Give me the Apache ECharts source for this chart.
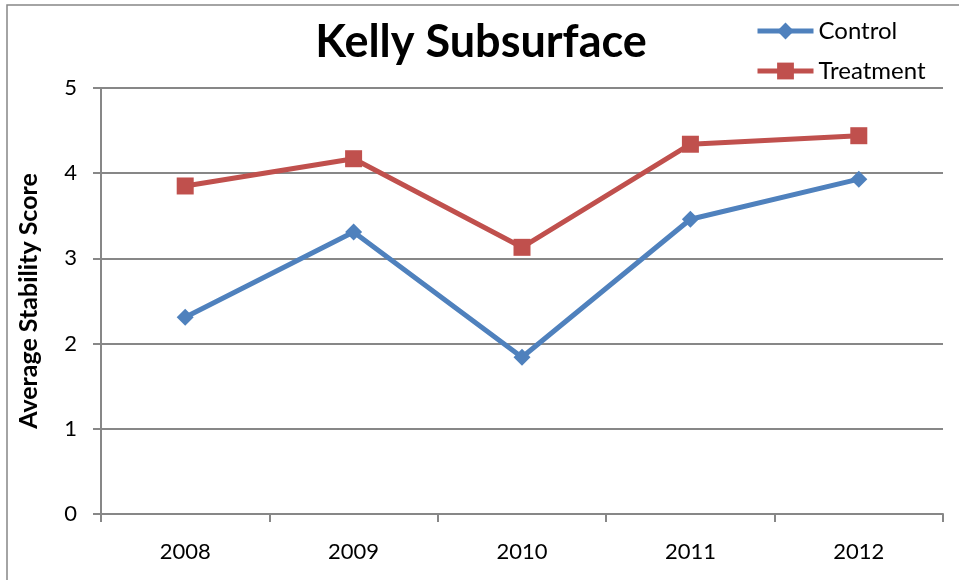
<!DOCTYPE html>
<html>
<head>
<meta charset="utf-8">
<script src="https://cdn.jsdelivr.net/npm/echarts@6/dist/echarts.min.js"></script>
<style>
  html, body { margin: 0; padding: 0; background: #fff; }
  #chart { width: 959px; height: 580px; }
</style>
</head>
<body>
<div id="chart"></div>
<script>
// Yearly average stability scores, Kelly subsurface plots
const years = ['2008', '2009', '2010', '2011', '2012'];
const control = [2.31, 3.31, 1.84, 3.46, 3.93];
const treatment = [3.85, 4.17, 3.13, 4.34, 4.44];
const yTicks = [0, 1, 2, 3, 4, 5];

const FONT = 'Lato, "Open Sans", sans-serif';
const GRAY = '#878787';

const chart = echarts.init(document.getElementById('chart'));
chart.setOption({
  animation: false,
  backgroundColor: '#fff',
  title: {
    text: 'Kelly Subsurface',
    left: 476,
    textAlign: 'center',
    top: 15,
    textStyle: { fontFamily: FONT, fontWeight: 'bold', fontSize: 45, color: '#000' }
  },
  legend: {
    orient: 'vertical',
    left: 750,
    top: 14,
    itemWidth: 56,
    itemHeight: 21,
    itemGap: 16,
    lineStyle: { width: 5 },
    textStyle: { fontFamily: FONT, fontSize: 24, color: '#000' },
    data: ['Control', 'Treatment']
  },
  graphic: [{
    type: 'rect',
    shape: { x: 7, y: 5, width: 1000, height: 1000 },
    style: { fill: 'none', stroke: GRAY, lineWidth: 1.5 },
    silent: true
  }],
  grid: { left: 101, right: 16, top: 88, bottom: 66 },
  xAxis: {
    type: 'category',
    data: years,
    boundaryGap: true,
    axisLine: { lineStyle: { color: GRAY, width: 2 } },
    axisTick: { show: true, length: 8, lineStyle: { color: GRAY, width: 2 } },
    axisLabel: { fontFamily: FONT, fontSize: 22, color: '#000', margin: 27 },
    splitLine: { show: false }
  },
  yAxis: {
    type: 'value',
    min: yTicks[0],
    max: yTicks[yTicks.length - 1],
    interval: 1,
    name: 'Average Stability Score',
    nameLocation: 'middle',
    nameGap: 60,
    nameTextStyle: { fontFamily: FONT, fontWeight: 'bold', fontSize: 25, color: '#000' },
    axisLine: { show: true, lineStyle: { color: GRAY, width: 2 } },
    axisTick: { show: true, length: 8, lineStyle: { color: GRAY, width: 2 } },
    axisLabel: { fontFamily: FONT, fontSize: 22, color: '#000', margin: 24 },
    splitLine: { show: true, lineStyle: { color: GRAY, width: 2 } }
  },
  series: [
    {
      name: 'Control',
      type: 'line',
      data: control,
      symbol: 'diamond',
      symbolSize: 17,
      lineStyle: { color: '#4F81BD', width: 5 },
      itemStyle: { color: '#4F81BD' }
    },
    {
      name: 'Treatment',
      type: 'line',
      data: treatment,
      symbol: 'rect',
      symbolSize: 17,
      lineStyle: { color: '#C0504D', width: 5 },
      itemStyle: { color: '#C0504D' }
    }
  ]
});
</script>
</body>
</html>
